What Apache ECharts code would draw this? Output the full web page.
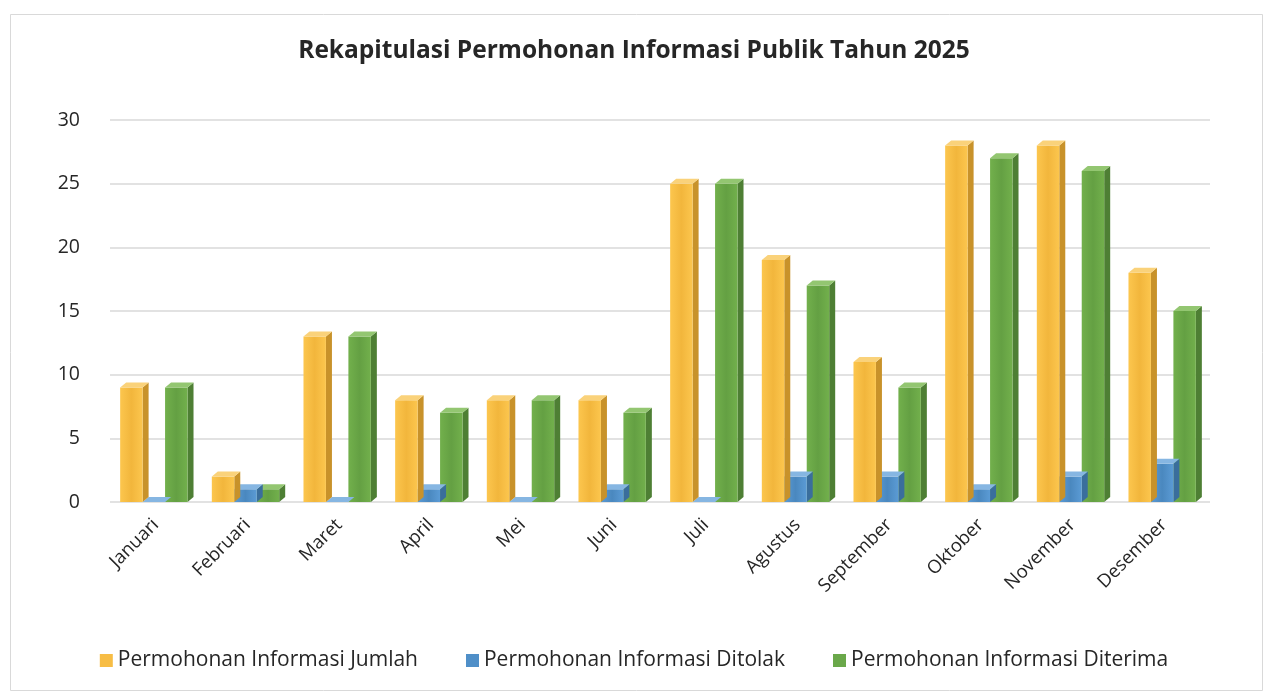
<!DOCTYPE html>
<html><head><meta charset="utf-8">
<script src="https://cdn.jsdelivr.net/npm/echarts@6/dist/echarts.min.js"></script>
<style>html,body{margin:0;padding:0;background:#fff}#c{width:1268px;height:694px}</style>
</head><body><div id="c"></div>
<script>
const categories = ['Januari','Februari','Maret','April','Mei','Juni','Juli','Agustus','September','Oktober','November','Desember'];
const jumlah   = [9, 2, 13, 8, 8, 8, 25, 19, 11, 28, 28, 18];
const ditolak  = [0, 1, 0, 1, 0, 1, 0, 2, 2, 1, 2, 3];
const diterima = [9, 1, 13, 7, 8, 7, 25, 17, 9, 27, 26, 15];
const seriesNames = ['Permohonan Informasi Jumlah','Permohonan Informasi Ditolak','Permohonan Informasi Diterima'];
const yTicks = [0, 5, 10, 15, 20, 25, 30];

const palettes = [
  {front:['#F2B63C','#FCC64E'], side:'#C8922A', top:'#FAD27A', legend:'#F7BD45'},
  {front:['#4A88BF','#5B9BD5'], side:'#3A6E9C', top:'#86B6E2', legend:'#4F8FC8'},
  {front:['#64A043','#72B04C'], side:'#4E7F34', top:'#93C671', legend:'#6AA84A'}
];

function make3D(idx){
  const p = palettes[idx];
  return function(params, api){
    const i = api.value(0), v = api.value(1);
    const base = api.coord([i, 0]);
    const top = api.coord([i, v]);
    const band = api.size([1, 0])[0];
    const w = band * 0.245;
    const d = 6, dy = 5;
    const x0 = base[0] - 1.5 * w + idx * w - 2;
    const yT = top[1], yB = base[1];
    const h = Math.max(yB - yT, 0);
    return {
      type: 'group',
      children: [
        {type:'polygon', shape:{points:[[x0+w,yT],[x0+w+d,yT-dy],[x0+w+d,yB-dy],[x0+w,yB]]}, style:{fill:p.side}},
        {type:'rect', shape:{x:x0, y:yT, width:w, height:h}, style:{fill:{type:'linear',x:0,y:0,x2:1,y2:0,colorStops:[{offset:0,color:p.front[1]},{offset:0.5,color:p.front[0]},{offset:1,color:p.front[1]}]}}},
        {type:'polygon', shape:{points:[[x0,yT],[x0+d,yT-dy],[x0+w+d,yT-dy],[x0+w,yT]]}, style:{fill:p.top}}
      ]
    };
  };
}

const datasets = [jumlah, ditolak, diterima];
const series = datasets.map((arr, idx) => ({
  name: seriesNames[idx],
  type: 'custom',
  renderItem: make3D(idx),
  itemStyle: {color: palettes[idx].legend},
  encode: {x: 0, y: 1},
  z: 10 - idx,
  data: arr.map((v, i) => [i, v])
}));

const chart = echarts.init(document.getElementById('c'), null, {renderer:'canvas'});
chart.setOption({
  backgroundColor:'#fff',
  animation:false,
  textStyle:{fontFamily:'Open Sans'},
  graphic:[{type:'rect', left:8, top:12, shape:{width:1252, height:676}, style:{fill:'none', stroke:'#d9d9d9', lineWidth:1}, z:-10}],
  title:{text:'Rekapitulasi Permohonan Informasi Publik Tahun 2025', left:'center', top:34,
    textStyle:{fontFamily:'Open Sans', fontSize:24.5, fontWeight:'bold', color:'#262626'}},
  legend:{bottom:18, left:'center', icon:'rect', itemWidth:13, itemHeight:13, itemGap:48,
    textStyle:{fontFamily:'Open Sans', fontSize:21, color:'#262626'}, data:seriesNames},
  grid:{left:110, right:58, top:120, bottom:192},
  xAxis:{type:'category', data:categories, boundaryGap:true,
    axisLine:{show:false}, axisTick:{show:false},
    axisLabel:{rotate:45, fontSize:18.5, color:'#262626', margin:20, interval:0}},
  yAxis:{type:'value', min:0, max:30, interval:5,
    axisLine:{show:false}, axisTick:{show:false},
    axisLabel:{fontSize:19.5, color:'#262626', margin:30, formatter:v=>yTicks.includes(v)?String(v):''},
    splitLine:{lineStyle:{color:'#d9d9d9', width:1.5}}},
  series: series
});
</script></body></html>
